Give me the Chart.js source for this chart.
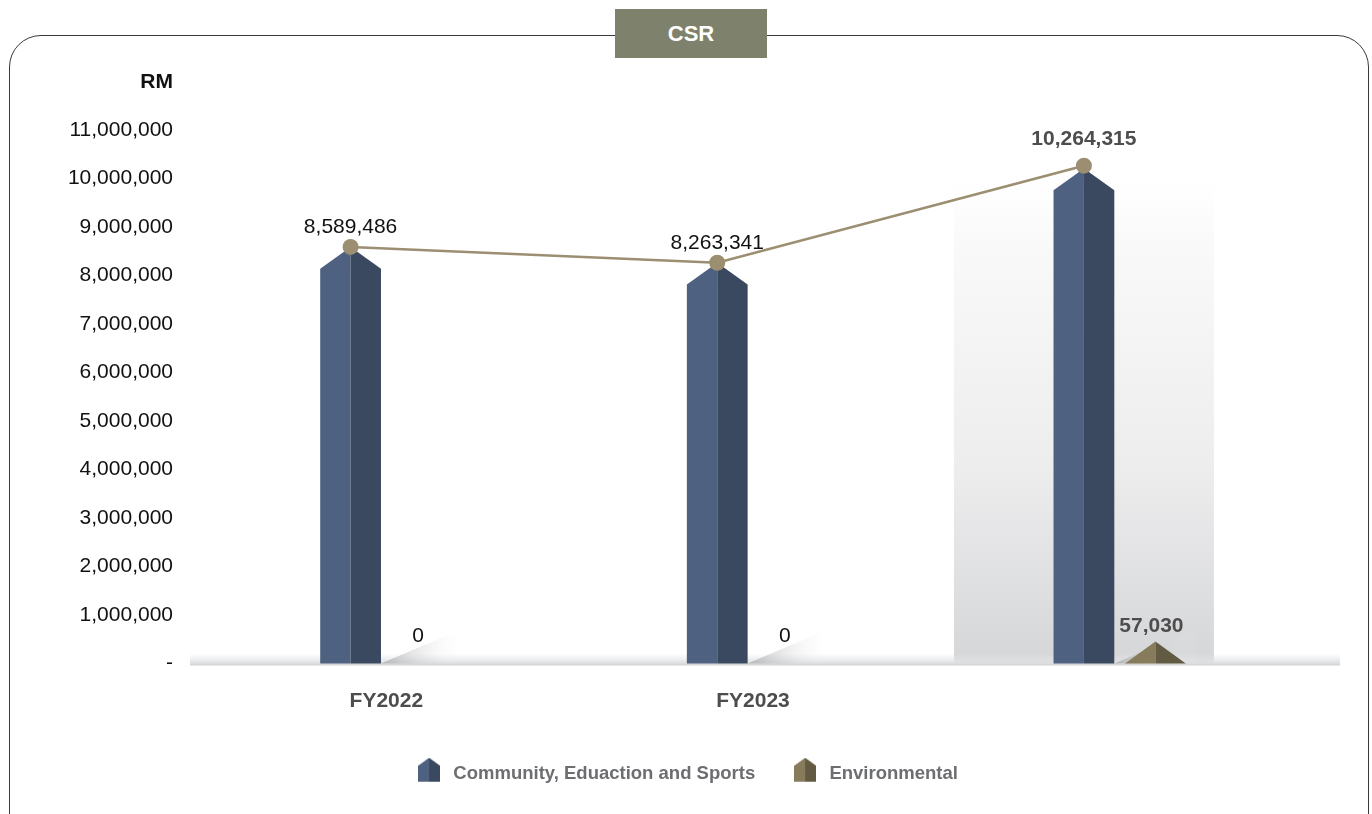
<!DOCTYPE html>
<html><head><meta charset="utf-8">
<script src="https://cdn.jsdelivr.net/npm/chart.js@4/dist/chart.umd.min.js"></script>
<style>
html,body{margin:0;padding:0;background:#fff;}
#wrap{position:relative;width:1372px;height:814px;overflow:hidden;font-family:"Liberation Sans",Arial,Helvetica,sans-serif;}
#frame{position:absolute;left:9px;top:35px;width:1360px;height:830px;border:1.3px solid #3a3a3a;border-radius:32px;box-sizing:border-box;}
#title{position:absolute;left:615px;top:9px;width:152px;height:49px;background:#7e816b;color:#fff;font-weight:bold;font-size:22px;line-height:49px;text-align:center;}
#unit{position:absolute;left:100px;width:73px;text-align:right;top:69px;font-weight:bold;font-size:21px;line-height:24px;color:#111;}
canvas{position:absolute;left:0;top:0;}
</style></head>
<body>
<div id="wrap">
  <div id="frame"></div>
  <canvas id="c" width="1372" height="814"></canvas>
  <div id="title">CSR</div>
  <div id="unit">RM</div>
</div>
<script>
const categories = ['FY2022', 'FY2023', ''];
const communityValues = [8589486, 8263341, 10207285];
const environmentalValues = [0, 0, 57030];
const totalValues = [8589486, 8263341, 10264315];
const seriesNames = ['Community, Eduaction and Sports', 'Environmental', 'Total'];

const FONT = '"Liberation Sans", Arial, Helvetica, sans-serif';
const highlightIndex = 2;
const roofRatio = 0.72;
const barColors = [['#4f6180', '#3a4960'], ['#867b5b', '#635a43']];
const lineColor = '#9b8e71';
const fmt = v => v.toLocaleString('en-US');

function houseIcon(light, dark) {
  const c = document.createElement('canvas');
  c.width = 22; c.height = 32;
  const g = c.getContext('2d');
  const w = 22, h = 24, r = 8;
  g.fillStyle = light;
  g.beginPath(); g.moveTo(0, h); g.lineTo(0, r); g.lineTo(w / 2, 0); g.lineTo(w / 2, h); g.closePath(); g.fill();
  g.fillStyle = dark;
  g.beginPath(); g.moveTo(w, h); g.lineTo(w, r); g.lineTo(w / 2, 0); g.lineTo(w / 2, h); g.closePath(); g.fill();
  return c;
}
const icons = [houseIcon(barColors[0][0], barColors[0][1]), houseIcon(barColors[1][0], barColors[1][1])];

function drawHouse(ctx, x, w, top, base, light, dark) {
  const hw = w / 2, roof = hw * roofRatio;
  let peak = top;
  if (base - peak < roof) peak = base - roof;
  const sh = peak + roof;
  ctx.fillStyle = light;
  ctx.beginPath(); ctx.moveTo(x - hw, base); ctx.lineTo(x - hw, sh); ctx.lineTo(x, peak); ctx.lineTo(x, base); ctx.closePath(); ctx.fill();
  ctx.fillStyle = dark;
  ctx.beginPath(); ctx.moveTo(x + hw, base); ctx.lineTo(x + hw, sh); ctx.lineTo(x, peak); ctx.lineTo(x, base); ctx.closePath(); ctx.fill();
  return peak;
}

const shapePlugin = {
  id: 'shapes',
  afterDatasetsUpdate(chart) {
    // put the total line points on the Community bar centres
    const bars = chart.getDatasetMeta(0).data;
    chart.getDatasetMeta(2).data.forEach((p, i) => { p.x = bars[i].x; });
  },
  beforeDatasetsDraw(chart) {
    const ctx = chart.ctx;
    const area = chart.chartArea;
    const base = chart.scales.y.getPixelForValue(0);
    const m0 = chart.getDatasetMeta(0).data;
    const m1 = chart.getDatasetMeta(1).data;
    ctx.save();
    // highlight column
    const hb = m0[highlightIndex];
    const hx0 = hb.x - 130, hTop = area.top + 45;
    let g = ctx.createLinearGradient(0, hTop, 0, base);
    g.addColorStop(0, 'rgba(252,252,252,0)');
    g.addColorStop(0.12, '#fafafa');
    g.addColorStop(0.6, '#ededee');
    g.addColorStop(1, '#d5d6d8');
    ctx.fillStyle = g;
    ctx.fillRect(hx0, hTop, 260, base - hTop);
    // baseline band
    g = ctx.createLinearGradient(0, base - 10, 0, base + 2);
    g.addColorStop(0, 'rgba(230,231,233,0)');
    g.addColorStop(0.8, '#dedfe1');
    g.addColorStop(1, '#cfd0d2');
    ctx.fillStyle = g;
    ctx.fillRect(190, base - 10, 1150, 12);
    // shadows
    m0.forEach(b => {
      const xr = b.x + b.width / 2;
      const sg = ctx.createLinearGradient(xr, 0, xr + 85, 0);
      sg.addColorStop(0, 'rgba(150,152,156,0.6)');
      sg.addColorStop(1, 'rgba(255,255,255,0)');
      ctx.fillStyle = sg;
      ctx.beginPath(); ctx.moveTo(xr, base); ctx.lineTo(xr + 85, base - 36); ctx.lineTo(xr + 85, base); ctx.closePath(); ctx.fill();
    });
    // bars
    m0.forEach((b, i) => { if (communityValues[i] > 0) drawHouse(ctx, b.x, b.width, b.y, base, barColors[0][0], barColors[0][1]); });
    m1.forEach((b, i) => {
      if (environmentalValues[i] > 0) b.$peak = drawHouse(ctx, b.x, b.width, b.y, base, barColors[1][0], barColors[1][1]);
    });
    ctx.restore();
  },
  afterDatasetsDraw(chart) {
    const ctx = chart.ctx;
    const base = chart.scales.y.getPixelForValue(0);
    ctx.save();
    ctx.textAlign = 'center';
    ctx.textBaseline = 'middle';
    chart.getDatasetMeta(2).data.forEach((p, i) => {
      const hl = i === highlightIndex;
      ctx.font = (hl ? 'bold ' : '') + '21px ' + FONT;
      ctx.fillStyle = hl ? '#4d4d4d' : '#111';
      ctx.fillText(fmt(totalValues[i]), p.x, p.y - (hl ? 26 : 20));
    });
    chart.getDatasetMeta(1).data.forEach((b, i) => {
      const hl = i === highlightIndex;
      ctx.font = (hl ? 'bold ' : '') + '21px ' + FONT;
      ctx.fillStyle = hl ? '#4d4d4d' : '#111';
      const v = environmentalValues[i];
      const y = v > 0 ? b.$peak - 15 : base - 27;
      ctx.fillText(fmt(v), b.x - (v > 0 ? 4 : 4), y);
    });
    ctx.restore();
  }
};

new Chart(document.getElementById('c'), {
  type: 'bar',
  data: {
    labels: categories,
    datasets: [
      { label: seriesNames[0], data: communityValues, backgroundColor: 'rgba(0,0,0,0)', borderWidth: 0, order: 2 },
      { label: seriesNames[1], data: environmentalValues, backgroundColor: 'rgba(0,0,0,0)', borderWidth: 0, order: 2 },
      { type: 'line', label: seriesNames[2], data: totalValues, borderColor: lineColor, borderWidth: 2.5,
        pointRadius: 8, pointBackgroundColor: lineColor, pointBorderWidth: 0, pointHoverRadius: 8, order: 1 }
    ]
  },
  options: {
    responsive: false,
    animation: false,
    datasets: { bar: { categoryPercentage: 0.39, barPercentage: 0.85 } },
    layout: { padding: { top: 130, right: 0, bottom: 21, left: 0 } },
    scales: {
      x: {
        grid: { display: false, drawTicks: false },
        border: { display: false },
        ticks: { padding: 25, color: '#4d4d4d', font: { family: FONT, size: 21, weight: 'bold' } },
        afterFit(s) { s.height = 66; }
      },
      y: {
        min: 0, max: 11000000,
        grid: { display: false, drawTicks: false },
        border: { display: false },
        ticks: { stepSize: 1000000, padding: 30, color: '#111', font: { family: FONT, size: 21 },
          callback: v => v === 0 ? '-' : fmt(v) },
        afterFit(s) { s.width = 203; }
      },
      yRight: {
        position: 'right',
        min: 0, max: 11000000,
        grid: { display: false, drawTicks: false },
        border: { display: false },
        ticks: { display: false },
        afterFit(s) { s.width = 69; }
      }
    },
    plugins: {
      tooltip: { enabled: false },
      legend: {
        position: 'bottom',
        labels: {
          usePointStyle: true, pointStyleWidth: 30, padding: 35,
          color: '#6d6e71', font: { family: FONT, size: 18.5, weight: 'bold' },
          generateLabels(chart) {
            return [0, 1].map(i => ({ text: chart.data.datasets[i].label, pointStyle: icons[i],
              fillStyle: 'rgba(0,0,0,0)', strokeStyle: 'rgba(0,0,0,0)', lineWidth: 0, hidden: false,
              datasetIndex: i, fontColor: '#6d6e71' }));
          }
        }
      }
    }
  },
  plugins: [shapePlugin]
});
</script>
</body></html>
